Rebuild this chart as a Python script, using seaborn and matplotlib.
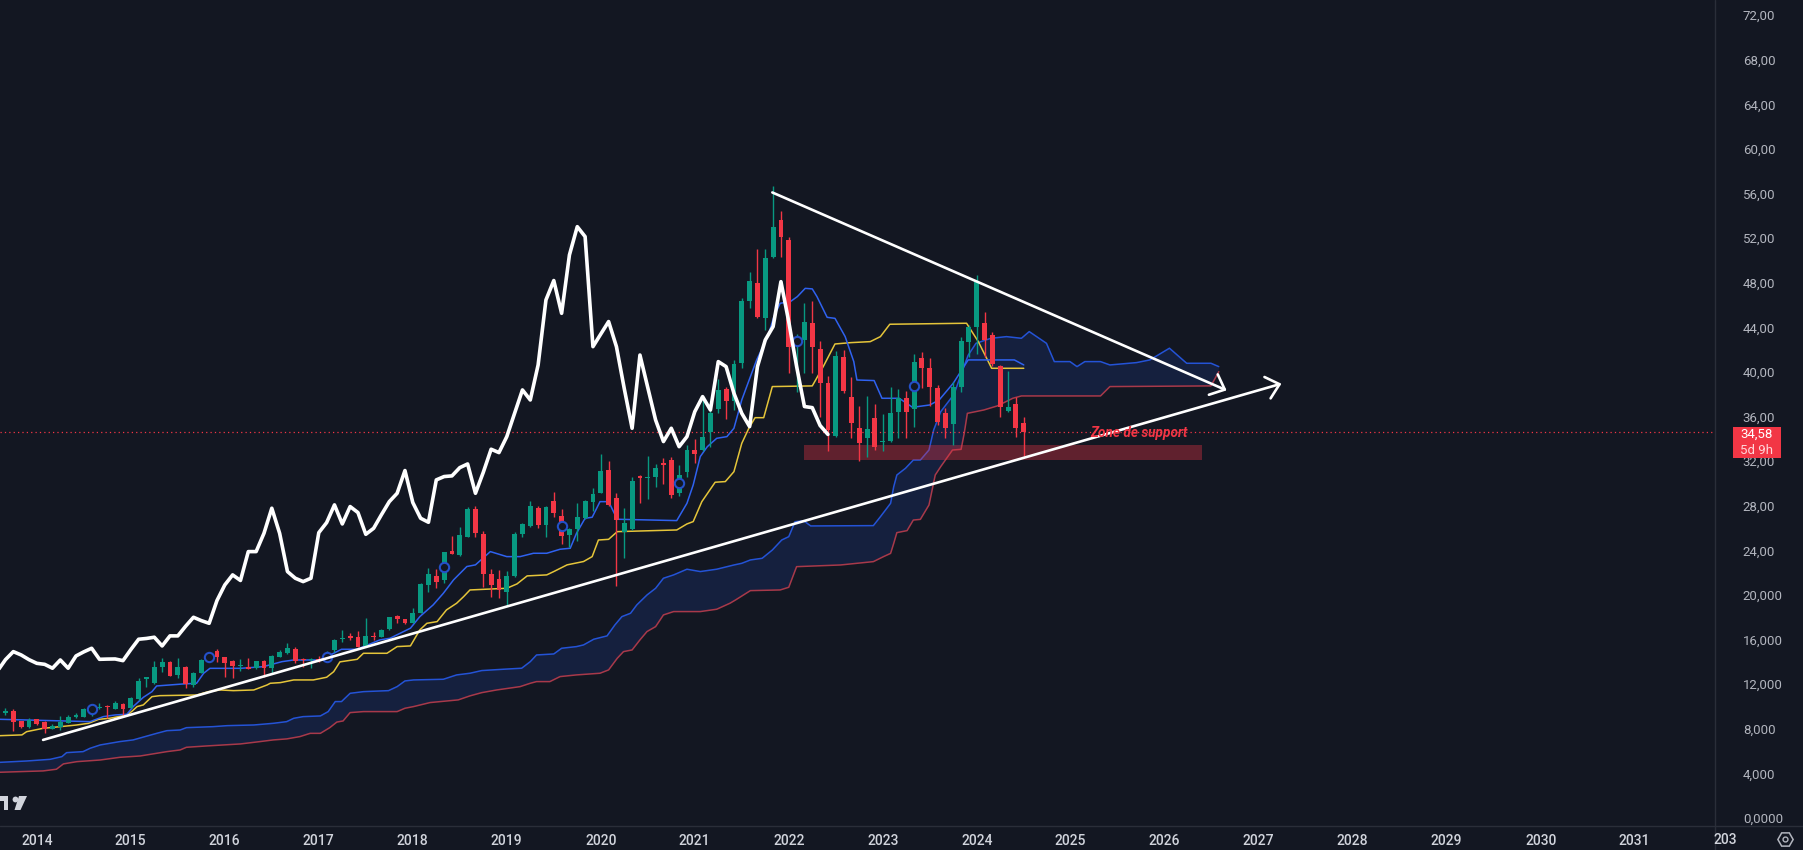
import numpy as np
import pandas as pd
import matplotlib
matplotlib.use("Agg")
import matplotlib.pyplot as plt
import matplotlib.transforms as mtransforms
from matplotlib.patches import Rectangle, Polygon, Circle
from matplotlib.lines import Line2D
import seaborn as sns

BG = '#131722'
UP = '#089981'
DOWN = '#f23645'
GRID_LINE = '#2a2e39'

# monthly candles; x = months counted from Jan 2014, first bar is Sep 2013
first_month = -4
opens = [9.45, 9.60, 8.67, 8.13,
         8.85, 8.58, 7.98, 8.13, 8.55, 9.03, 9.09, 9.70, 9.84, 9.99, 9.78, 10.23,
         9.87, 10.64, 12.50, 12.08, 13.57, 14.02, 12.83, 13.51, 11.93, 13.04, 14.20, 14.98,
         14.41, 14.11, 13.63, 13.54, 13.42, 14.11, 13.42, 14.47, 14.77, 15.16, 14.26, 14.20,
         14.26, 14.10, 15.07, 16.03, 16.33, 16.27, 15.43, 16.33, 16.27, 16.93, 18.09, 17.82,
         17.52, 18.42, 20.90, 21.71, 21.35, 23.95, 23.59, 25.24, 27.69, 25.48, 21.89, 21.41,
         20.30, 21.71, 25.48, 26.19, 27.81, 26.28, 28.44, 27.09, 25.39, 25.93, 26.88, 28.38,
         29.18, 31.21, 28.67, 25.68, 25.89, 30.70, 30.46, 30.61, 31.81, 32.11, 29.18, 31.06,
         33.00, 33.00, 34.65, 36.65, 38.44, 37.43, 40.84, 46.40, 47.95, 44.81, 50.29, 53.63,
         51.84, 42.30, 42.90, 44.43, 42.06, 38.99, 34.29, 41.32, 37.73, 34.95, 34.11, 35.85,
         33.72, 33.84, 36.45, 37.64, 36.66, 41.23, 40.39, 38.54, 36.30, 35.34, 38.69, 42.72,
         44.01, 44.37, 43.32, 40.54, 36.53, 37.10, 35.40]
highs = [9.85, 9.78, 8.70, 8.94,
         8.90, 8.67, 8.40, 9.15, 9.24, 9.45, 9.84, 10.00, 10.29, 10.14, 10.50, 10.29,
         10.88, 12.53, 12.68, 14.11, 14.32, 14.08, 14.32, 13.63, 13.12, 14.23, 14.50, 15.13,
         14.45, 14.15, 14.23, 14.32, 14.11, 14.17, 14.62, 15.07, 15.67, 15.31, 14.32, 14.32,
         14.53, 15.00, 16.03, 16.87, 16.57, 16.81, 17.91, 16.72, 16.93, 18.06, 18.21, 17.88,
         18.81, 21.05, 22.40, 22.31, 23.89, 25.29, 26.13, 27.87, 27.99, 25.74, 22.31, 22.25,
         22.19, 25.68, 26.49, 28.47, 27.99, 27.99, 29.27, 27.69, 26.00, 28.23, 28.53, 29.57,
         32.65, 32.05, 29.12, 27.77, 30.61, 30.76, 32.47, 31.75, 32.26, 32.35, 31.66, 33.45,
         33.96, 37.85, 36.59, 39.34, 38.62, 41.08, 46.61, 49.00, 51.00, 51.00, 56.68, 54.44,
         52.14, 43.40, 46.16, 46.37, 42.81, 39.64, 41.88, 41.97, 39.58, 36.95, 37.85, 37.10,
         36.23, 38.63, 38.45, 38.33, 41.62, 41.83, 41.23, 38.84, 36.75, 39.13, 43.17, 44.22,
         48.70, 45.41, 43.62, 40.63, 40.09, 37.73, 36.00]
lows = [9.25, 7.83, 8.10, 8.04,
        8.34, 7.65, 7.95, 7.89, 8.49, 9.00, 9.05, 9.15, 9.80, 8.94, 9.75, 9.24,
        9.84, 10.60, 11.78, 12.02, 13.06, 12.70, 12.53, 11.63, 11.78, 12.98, 14.00, 14.02,
        12.62, 12.53, 13.21, 13.35, 13.36, 12.68, 12.98, 14.41, 14.71, 13.93, 13.51, 13.42,
        14.02, 14.00, 14.92, 15.82, 15.97, 15.30, 15.35, 15.97, 16.20, 16.87, 17.46, 17.40,
        17.46, 18.36, 20.30, 20.60, 21.11, 23.65, 23.50, 25.20, 25.18, 20.69, 19.86, 19.71,
        19.02, 21.65, 25.24, 26.07, 25.98, 25.24, 27.03, 24.58, 24.34, 24.88, 26.79, 27.57,
        29.12, 28.00, 20.81, 23.29, 25.80, 28.28, 28.58, 29.72, 29.96, 28.67, 28.88, 30.61,
        31.81, 32.90, 33.30, 36.29, 35.76, 36.59, 40.33, 45.71, 44.81, 43.77, 50.20, 50.29,
        39.88, 38.24, 39.88, 39.88, 36.00, 32.95, 34.20, 38.15, 34.05, 32.05, 32.35, 33.00,
        32.95, 33.75, 34.05, 34.05, 35.10, 38.54, 36.95, 35.25, 34.05, 33.45, 38.24, 41.32,
        41.62, 41.32, 40.50, 36.00, 36.45, 34.20, 32.47]
closes = [9.55, 8.64, 8.19, 8.79,
          8.43, 7.95, 8.28, 8.61, 9.09, 9.21, 9.78, 9.85, 9.99, 9.93, 10.29, 9.78,
          10.76, 12.32, 12.62, 13.51, 13.96, 12.77, 13.51, 12.02, 12.98, 14.17, 14.40, 14.47,
          13.93, 13.66, 13.69, 13.39, 14.08, 13.42, 14.53, 14.89, 15.25, 14.08, 14.20, 14.26,
          14.11, 14.55, 15.97, 16.18, 16.15, 15.37, 16.33, 16.21, 16.87, 18.00, 17.82, 17.46,
          18.42, 20.99, 21.89, 21.20, 23.83, 23.71, 25.38, 27.75, 25.54, 21.89, 20.90, 20.45,
          21.71, 25.48, 26.37, 27.99, 26.28, 27.87, 27.33, 25.33, 25.93, 26.97, 28.44, 29.06,
          31.13, 28.07, 26.73, 26.49, 30.22, 30.46, 30.61, 31.36, 31.66, 28.97, 30.76, 33.00,
          32.64, 34.14, 36.29, 38.38, 37.43, 40.69, 46.40, 48.19, 44.96, 50.20, 53.04, 52.08,
          42.21, 42.90, 44.52, 42.27, 38.99, 34.80, 41.44, 38.33, 35.46, 33.66, 34.86, 33.25,
          33.84, 36.36, 37.64, 36.45, 40.93, 40.39, 38.63, 35.55, 35.01, 38.69, 42.78, 44.01,
          48.10, 42.87, 40.69, 36.83, 36.83, 35.01, 34.58]

# comparison symbol (thick white line), monthly from Aug 2013
white_first_month = -5
white_values = [13.2, 14.2, 14.92, 14.62, 14.2,
                13.87, 13.78, 13.43, 14.17, 13.43, 14.53, 14.9, 15.22, 14.23, 14.25, 14.26, 14.11,
                15.1, 16.03, 16.1, 16.21, 15.43, 16.33, 16.33, 17.2, 18.0, 17.7, 17.46, 19.5,
                20.9, 21.8, 21.3, 23.89, 23.89, 25.53, 27.78, 25.53, 22.1, 21.5, 21.2, 21.5,
                25.59, 26.49, 28.08, 26.37, 27.93, 27.39, 25.44, 25.98, 27.2, 28.37, 29.12, 31.16,
                28.29, 26.88, 26.52, 30.32, 30.62, 30.68, 31.42, 31.75, 29.12, 31.0, 33.07, 32.77,
                34.2, 36.3, 38.39, 37.49, 40.63, 46.46, 48.2, 45.26, 50.5, 53.03, 52.14, 42.27,
                43.4, 44.52, 42.27, 38.5, 34.95, 41.52, 38.6, 35.69, 33.76, 34.95, 33.3, 34.2,
                36.44, 37.79, 36.59, 40.93, 40.48, 38.09, 36.29, 35.1, 40.48, 42.87, 44.07, 48.1,
                44.5, 40.5, 36.9, 36.8, 35.2, 34.4]

# Ichimoku lines, read as vertices (month, value)
tenkan_month = [-4.7, 6.8, 8.5, 10.0, 11.5, 12.3, 13.6, 14.7, 15.3, 18.7, 20.4, 21.3, 22.1, 26.0,
                28.9, 31.3, 32.8, 36.2, 37.9, 38.9, 40.9, 43.8, 45.1, 47.7, 48.9, 50.6, 51.9,
                53.2, 54.9, 56.0, 57.9, 60.0, 61.7, 63.4, 65.1, 66.8, 68.1, 68.9, 70.0, 70.9,
                71.9, 73.0, 74.1, 81.7, 83.0, 83.8, 84.7, 85.6, 86.8, 88.1, 89.0, 90.0, 91.1,
                91.9, 92.8, 93.4, 94.1, 94.9, 96.2, 97.1, 98.1, 99.0, 99.6, 100.9, 101.9,
                103.2, 104.3, 104.7, 106.9, 107.9, 110.1, 111.8, 114.0, 115.2, 117.0, 118.9,
                124.8, 126.0]
tenkan_value = [8.85, 8.64, 9.09, 9.24, 9.30, 9.99, 10.82, 11.33, 11.84, 12.02, 12.08, 12.98, 13.42,
                13.42, 13.57, 14.02, 14.17, 14.17, 14.77, 15.13, 15.13, 15.97, 16.12, 17.02,
                18.06, 19.11, 20.15, 21.35, 22.55, 22.70, 23.89, 23.44, 23.44, 23.74, 23.74,
                24.10, 24.19, 25.53, 26.88, 26.97, 28.37, 28.37, 26.79, 26.67, 28.22, 29.87,
                32.41, 33.30, 34.05, 34.20, 34.95, 37.49, 39.58, 41.08, 42.42, 43.32, 44.96,
                46.16, 46.31, 46.76, 47.50, 47.45, 46.76, 44.90, 44.81, 43.17, 40.93, 39.28,
                39.23, 37.64, 37.64, 36.83, 37.04, 37.49, 38.99, 41.08, 41.08, 40.63]

kijun_month = [-4.7, -1.9, -1.3, 0.8, 3.0, 5.1, 6.6, 7.9, 9.3, 11.5, 12.1, 12.8, 13.6, 14.7, 15.7,
               20.4, 21.9, 23.4, 25.1, 27.7, 29.4, 29.8, 31.1, 32.8, 35.3, 37.0, 37.9, 38.7,
               40.9, 41.7, 44.7, 46.0, 47.7, 48.9, 49.8, 51.1, 52.3, 53.6, 54.5, 55.3, 60.0,
               61.3, 62.6, 65.1, 66.0, 67.7, 69.8, 70.9, 71.7, 73.0, 74.1, 81.7, 83.0, 83.8,
               84.9, 86.6, 87.9, 89.0, 90.0, 90.9, 91.7, 92.8, 93.9, 99.0, 100.4, 101.9,
               103.9, 106.4, 107.7, 108.9, 118.7, 120.2, 121.9, 126.0]
kijun_value = [7.38, 7.45, 7.74, 8.04, 8.19, 8.34, 8.49, 8.85, 8.94, 9.24, 9.54, 9.99, 10.14, 10.88,
               10.97, 11.03, 11.33, 11.48, 11.42, 11.48, 11.93, 12.08, 12.14, 12.38, 12.38,
               12.62, 13.12, 14.00, 14.23, 14.77, 14.77, 15.37, 15.43, 16.87, 17.46, 17.61,
               18.66, 19.26, 19.86, 20.45, 20.60, 20.99, 21.71, 21.80, 22.10, 22.70, 23.00,
               23.44, 24.93, 24.99, 25.68, 25.83, 26.37, 26.58, 28.37, 30.11, 30.17, 31.06,
               33.60, 34.95, 35.90, 35.90, 38.69, 38.75, 40.48, 42.51, 42.63, 42.72, 43.17,
               44.28, 44.37, 42.72, 40.33, 40.33]

span_a_month = [-4.7, -1.3, 1.7, 3.2, 3.8, 5.9, 6.8, 8.1, 10.6, 12.3, 15.3, 16.6, 18.3, 19.1, 22.5,
                24.3, 27.7, 30.2, 31.9, 32.8, 34.0, 36.2, 37.2, 38.1, 38.9, 40.0, 41.7, 44.9,
                46.0, 47.0, 48.1, 51.9, 53.6, 55.3, 56.8, 59.6, 61.9, 63.0, 63.8, 66.0, 67.0,
                68.9, 69.8, 71.1, 72.8, 73.8, 74.7, 75.8, 76.6, 77.9, 79.0, 80.0, 81.3, 83.0,
                84.7, 86.8, 89.0, 90.0, 91.1, 92.6, 93.9, 95.1, 96.0, 96.8, 97.9, 98.8, 106.8,
                107.7, 109.0, 109.4, 109.8, 110.9, 111.9, 112.8, 113.9, 114.5, 115.4, 117.1,
                118.0, 118.9, 119.9, 121.8, 123.8, 125.7, 126.7, 128.9, 129.9, 131.9, 132.8,
                133.8, 135.8, 137.0, 140.4, 142.1, 144.6, 146.8, 149.9, 150.9]
span_a_value = [4.99, 5.11, 5.26, 5.50, 5.86, 5.95, 6.25, 6.55, 6.85, 7.00, 7.59, 7.83, 7.89, 8.10,
                8.19, 8.28, 8.34, 8.49, 8.64, 8.94, 9.09, 9.15, 9.54, 10.44, 10.44, 11.18, 11.33,
                11.42, 11.78, 12.29, 12.38, 12.44, 12.83, 12.98, 13.22, 13.34, 13.43, 14.02,
                14.62, 14.71, 15.22, 15.37, 15.52, 16.03, 16.33, 17.31, 18.06, 18.36, 19.11,
                20.00, 20.60, 21.50, 21.80, 22.31, 22.10, 22.31, 22.69, 22.84, 23.14, 23.29,
                24.03, 24.93, 25.23, 26.57, 26.66, 26.19, 26.22, 27.02, 28.22, 29.71, 30.76,
                31.36, 32.10, 32.10, 33.00, 34.80, 36.44, 38.00, 39.80, 41.50, 42.57, 43.02,
                43.17, 43.02, 43.62, 42.57, 40.93, 40.93, 40.48, 40.93, 40.93, 40.63, 40.84,
                41.08, 42.13, 40.78, 40.78, 40.48]

span_b_month = [-4.7, 0.8, 2.5, 3.4, 5.1, 8.1, 10.6, 13.2, 16.6, 18.3, 19.1, 21.7, 26.0, 28.5, 30.2,
                31.9, 33.6, 34.9, 36.2, 37.4, 38.3, 39.1, 40.0, 41.7, 46.0, 47.0, 48.1, 50.2,
                53.8, 55.3, 56.8, 58.7, 61.7, 63.0, 63.8, 65.5, 66.8, 68.9, 71.9, 73.0, 74.1,
                74.9, 76.0, 77.0, 77.9, 79.0, 80.0, 81.3, 84.7, 86.8, 88.5, 89.2, 91.1, 94.9,
                96.0, 97.0, 102.6, 106.8, 108.1, 109.0, 109.4, 109.8, 111.1, 111.9, 112.8,
                113.9, 114.3, 114.7, 115.4, 116.9, 118.0, 118.4, 118.8, 120.9, 122.6, 124.6,
                125.7, 135.8, 137.0, 149.9, 150.9]
span_b_value = [4.10, 4.22, 4.37, 4.85, 5.05, 5.20, 5.44, 5.56, 5.95, 6.10, 6.34, 6.46, 6.64, 6.85,
                7.00, 7.09, 7.30, 7.59, 7.59, 8.10, 8.60, 8.70, 9.45, 9.54, 9.54, 9.84, 9.99,
                10.35, 10.59, 10.95, 11.24, 11.48, 11.78, 12.08, 12.23, 12.23, 12.68, 12.83,
                12.98, 13.28, 14.32, 14.92, 15.07, 15.97, 16.72, 17.16, 18.21, 18.51, 18.51,
                18.72, 19.26, 19.55, 20.39, 20.45, 20.69, 22.54, 22.69, 22.99, 23.44, 23.73,
                24.63, 25.59, 25.77, 26.72, 26.78, 28.07, 29.41, 30.76, 31.51, 33.00, 33.06,
                34.50, 36.29, 36.59, 36.95, 37.64, 37.85, 37.85, 38.69, 38.75, 40.03]

# event markers (hollow blue circles)
event_month = [7, 22, 37, 52, 67, 82, 97, 112]
event_value = [9.75, 14.41, 14.47, 22.54, 26.23, 30.00, 42.80, 38.70]

# drawings
rising_line = [(0.8, 7.0), (158.9, 38.95)]
falling_line = [(93.9, 56.1), (151.9, 38.35)]
support_zone = (97.9, 148.8, 32.1, 33.45)
support_label = (140.7, 34.5, 'Zone de support')
last_price = 34.58

years = list(range(2014, 2032))
price_ticks = list(range(0, 76, 4))
price_labels = ['0,0000', '4,000', '8,000', '12,000', '16,000', '20,000', '24,00', '28,00',
                '32,00', '36,00', '40,00', '44,00', '48,00', '52,00', '56,00', '60,00',
                '64,00', '68,00', '72,00']

# ---------------------------------------------------------------------------
sns.set_theme(style='dark', rc={'axes.facecolor': BG, 'figure.facecolor': BG,
                                'axes.edgecolor': GRID_LINE})
plt.rcParams['font.family'] = ['Roboto', 'DejaVu Sans']

W, H = 1803, 850
fig = plt.figure(figsize=(W / 100, H / 100), dpi=100)
plot_right = 1715
plot_bottom = 826
ax = fig.add_axes([0, 1 - plot_bottom / H, plot_right / W, plot_bottom / H])
ax.set_facecolor(BG)
ax.set_xlim(-4.70, 214.25)
ax.set_ylim(-0.72, 73.36)

# cloud
cloud = Polygon(list(zip(span_a_month, span_a_value)) +
                list(zip(span_b_month, span_b_value))[::-1],
                closed=True, facecolor='#2962ff', alpha=0.13, edgecolor='none', zorder=1)
ax.add_patch(cloud)
sns.lineplot(x=span_a_month, y=span_a_value, ax=ax, color='#2453d6', linewidth=1.1,
             estimator=None, sort=False, zorder=2)
sns.lineplot(x=span_b_month, y=span_b_value, ax=ax, color='#a8394a', linewidth=1.1,
             estimator=None, sort=False, zorder=2)

# support zone
z0, z1, zlo, zhi = support_zone
ax.add_patch(Rectangle((z0, zlo), z1 - z0, zhi - zlo, facecolor=DOWN, alpha=0.35,
                       edgecolor='none', zorder=3))

# kijun / tenkan
sns.lineplot(x=kijun_month, y=kijun_value, ax=ax, color='#e5c53a', linewidth=1.1,
             estimator=None, sort=False, zorder=4)
sns.lineplot(x=tenkan_month, y=tenkan_value, ax=ax, color='#2f62f0', linewidth=1.1,
             estimator=None, sort=False, zorder=4)

# candles
df = pd.DataFrame({'open': opens, 'high': highs, 'low': lows, 'close': closes})
df['month'] = np.arange(len(df)) + first_month
df['color'] = np.where(df['close'] >= df['open'], UP, DOWN)
ax.vlines(df['month'], df['low'], df['high'], colors=df['color'], linewidth=1.0, zorder=5)
body_lo = df[['open', 'close']].min(axis=1)
body_h = (df['close'] - df['open']).abs().clip(lower=0.1)
ax.bar(df['month'], body_h, bottom=body_lo, width=0.62, color=df['color'],
       linewidth=0, zorder=6)

# event markers
ax.scatter(event_month, event_value, s=45, facecolors=BG, edgecolors='#2450c8',
           linewidths=1.5, zorder=7)

# last price line
ax.axhline(last_price, color=DOWN, linewidth=0.9, linestyle=(0, (1, 2.5)), zorder=3)

# comparison line
white_month = np.arange(len(white_values)) + white_first_month
sns.lineplot(x=white_month, y=white_values, ax=ax, color='white', linewidth=2.6,
             estimator=None, sort=False, zorder=8)
ax.lines[-1].set_solid_joinstyle('round')

# trend lines with open arrow heads
for (xs, ys), (xe, ye) in (rising_line, falling_line):
    ax.annotate('', xy=(xe, ye), xytext=(xs, ys),
                arrowprops=dict(arrowstyle='->,head_length=0.45,head_width=0.4',
                                color='white', lw=1.9, shrinkA=0, shrinkB=0,
                                mutation_scale=20), zorder=9)

lx, ly, ltxt = support_label
ax.text(lx, ly, ltxt, color=DOWN, fontsize=9.8, fontweight='bold', fontstyle='italic',
        ha='center', va='center', zorder=10)

# axes styling
ax.set_xticks([(y - 2014) * 12 for y in years])
ax.set_xticklabels([str(y) for y in years])
ax.yaxis.tick_right()
ax.set_yticks(price_ticks)
ax.set_yticklabels(price_labels)
ax.tick_params(axis='x', length=0, pad=6, labelsize=10, labelcolor='#d1d4dc')
ax.tick_params(axis='y', length=0, pad=20, labelsize=9.5, labelcolor='#b2b5be')
for lab in ax.get_xticklabels():
    lab.set_fontweight('medium')
ax.grid(False)
for side in ('top', 'left', 'bottom', 'right'):
    ax.spines[side].set_visible(False)
ax.set_xlabel('')
ax.set_ylabel('')

# pane separators
fig.add_artist(Line2D([0, 1], [1 - plot_bottom / H] * 2, transform=fig.transFigure,
                      color=GRID_LINE, linewidth=1.0))
fig.add_artist(Line2D([plot_right / W] * 2, [0, 1], transform=fig.transFigure,
                      color=GRID_LINE, linewidth=1.0))

# truncated last year label
fig.text(1725 / W, 1 - 840 / H, '2032'[:3], color='#d1d4dc', fontsize=10,
         fontweight='medium', ha='center', va='center')

# last price badge on the price scale
blend = mtransforms.blended_transform_factory(fig.transFigure, ax.transData)
fig.add_artist(Rectangle((1733 / W, 32.29), 48 / W, 2.78, transform=blend,
                         facecolor=DOWN, edgecolor='none'))
fig.text(1757 / W, 1 - 434 / H, f'{last_price:.2f}'.replace('.', ','), color='white',
         fontsize=9.5, ha='center', va='center')
fig.text(1757 / W, 1 - 450 / H, '5d 9h', color='#ffd6da', fontsize=9.5,
         ha='center', va='center')


def px(x, y):
    return (x / W, 1 - y / H)


# chart logo (bottom left), drawn from simple shapes
LOGO = '#d1d4dc'
fig.add_artist(Polygon([px(0, 796), px(8, 796), px(8, 810), px(4, 810), px(4, 800.5),
                        px(0, 800.5)], closed=True, transform=fig.transFigure,
                       facecolor=LOGO, edgecolor='none'))
fig.add_artist(Line2D([15 / W], [1 - 798.5 / H], transform=fig.transFigure, marker='o',
                      markersize=4.2, markerfacecolor=LOGO, markeredgecolor='none'))
fig.add_artist(Polygon([px(19, 796), px(27, 796), px(20.5, 810), px(14.5, 810)],
                       closed=True, transform=fig.transFigure, facecolor=LOGO,
                       edgecolor='none'))

# settings icon (bottom right)
fig.add_artist(Line2D([1785 / W], [1 - 839 / H], transform=fig.transFigure, marker='H',
                      markersize=11, markerfacecolor='none', markeredgecolor='#b2b5be',
                      markeredgewidth=1.1))
fig.add_artist(Line2D([1785 / W], [1 - 839 / H], transform=fig.transFigure, marker='o',
                      markersize=3.5, markerfacecolor='none', markeredgecolor='#b2b5be',
                      markeredgewidth=1.0))

fig.savefig('out.png', dpi=100, facecolor=BG)
